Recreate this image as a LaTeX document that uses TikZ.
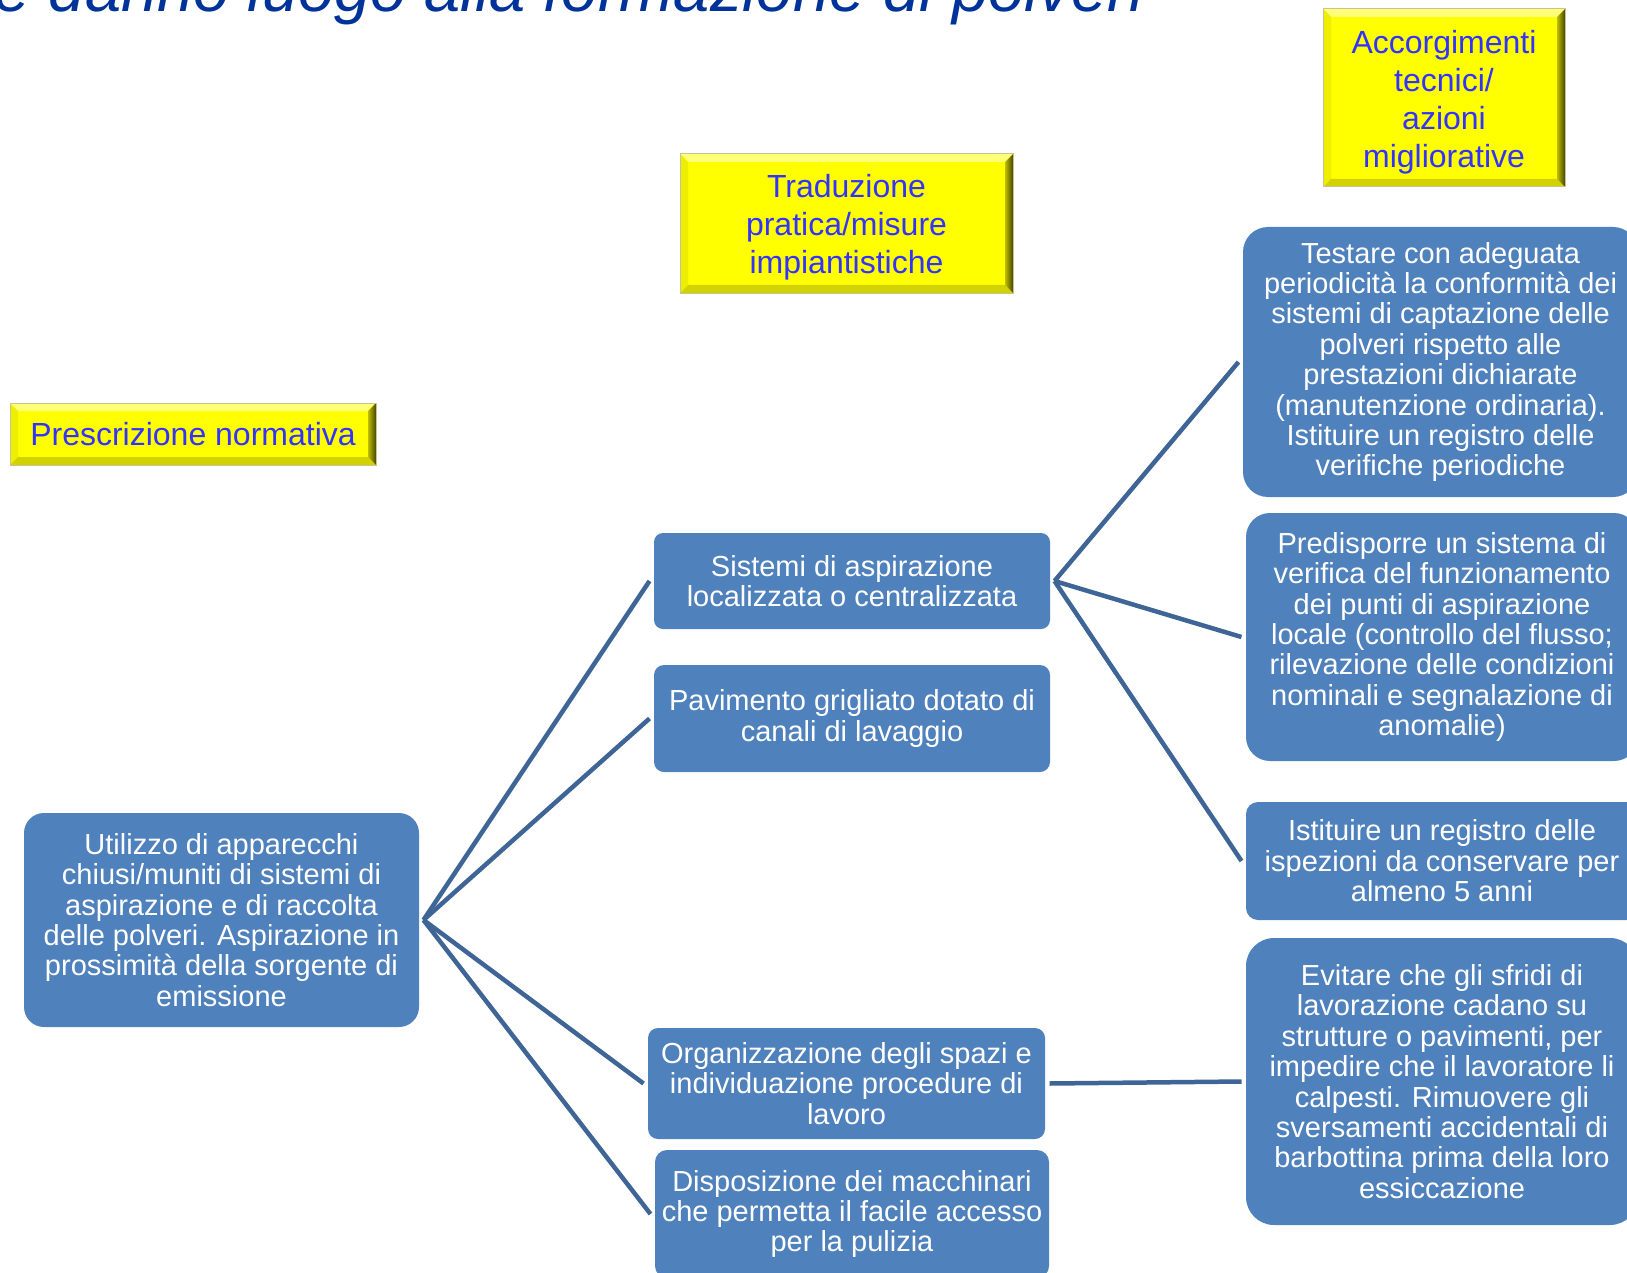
\documentclass[tikz,border=0pt]{standalone}
\usepackage{fontspec}
\setmainfont{Liberation Sans}
\definecolor{boxblue}{RGB}{79,129,189}
\definecolor{linkblue}{RGB}{62,101,150}
\definecolor{ytext}{RGB}{51,51,255}
\definecolor{titleblue}{RGB}{0,51,153}
\definecolor{ybase}{RGB}{255,255,0}
\definecolor{ytop}{RGB}{255,255,120}
\definecolor{yleft}{RGB}{238,238,0}
\definecolor{ybottom}{RGB}{210,210,0}
\definecolor{yright1}{RGB}{190,190,0}
\definecolor{yright2}{RGB}{70,70,0}
\definecolor{yedge}{RGB}{200,195,150}
\newcommand{\ystrutx}{\rule{0pt}{31pt}}
\tikzset{
  bluebox/.style={fill=boxblue, text=white, align=center, inner sep=0pt,
    outer sep=4.5pt, font=\fontsize{29}{30.4}\selectfont},
  ybox/.style={fill=ybase, draw=yedge, line width=1pt, text=ytext, align=center,
    inner sep=0pt, font=\fontsize{32}{38}\selectfont,
    path picture={
      \fill[ytop] (path picture bounding box.north west) -- (path picture bounding box.north east)
        -- ([shift={(-8pt,-8pt)}]path picture bounding box.north east)
        -- ([shift={(8pt,-8pt)}]path picture bounding box.north west) -- cycle;
      \fill[yleft] (path picture bounding box.north west)
        -- ([shift={(8pt,-8pt)}]path picture bounding box.north west)
        -- ([shift={(8pt,8pt)}]path picture bounding box.south west)
        -- (path picture bounding box.south west) -- cycle;
      \fill[ybottom] (path picture bounding box.south west)
        -- ([shift={(8pt,8pt)}]path picture bounding box.south west)
        -- ([shift={(-8pt,8pt)}]path picture bounding box.south east)
        -- (path picture bounding box.south east) -- cycle;
      \shade[left color=yright1, right color=yright2] (path picture bounding box.south east)
        -- ([shift={(-8pt,8pt)}]path picture bounding box.south east)
        -- ([shift={(-8pt,-8pt)}]path picture bounding box.north east)
        -- (path picture bounding box.north east) -- cycle;
    }},
  link/.style={draw=linkblue, line width=4.5pt}
}
\begin{document}
\begin{tikzpicture}[x=1pt,y=-1pt]
\useasboundingbox (0,0) rectangle (1627,1273);

% title fragment
\node[anchor=base east, inner sep=0pt, text=titleblue,
      font=\fontsize{65}{78}\selectfont\itshape] (title) at (1144,12)
      {e danno luogo alla formazione di polveri};

% yellow headers
\node[ybox, minimum width=366pt, minimum height=62pt] (hpresc) at (193,434)
  {Prescrizione normativa};
\node[ybox, minimum width=333pt, minimum height=139pt] (htrad) at (846.5,223.5)
  {\ystrutx Traduzione\\pratica/misure\\impiantistiche};
\node[ybox, minimum width=242pt, minimum height=178pt] (hacc) at (1444,98)
  {\ystrutx Accorgimenti\\tecnici/\\azioni\\migliorative};

% left
\node[bluebox, rounded corners=20pt, minimum width=395pt, minimum height=214pt] (A) at (221.5,920)
  {Utilizzo di apparecchi\\chiusi/muniti di sistemi di\\aspirazione e di raccolta\\delle polveri. Aspirazione in\\prossimità della sorgente di\\emissione};

% middle
\node[bluebox, rounded corners=9pt, minimum width=396pt, minimum height=96pt] (B) at (852,581)
  {Sistemi di aspirazione\\localizzata o centralizzata};
\node[bluebox, rounded corners=10pt, minimum width=396pt, minimum height=107pt] (C) at (852,718.5)
  {Pavimento grigliato dotato di\\canali di lavaggio};
\node[bluebox, rounded corners=10pt, minimum width=397pt, minimum height=111pt] (D) at (846.5,1083.5)
  {Organizzazione degli spazi e\\individuazione procedure di\\lavoro};
\node[bluebox, rounded corners=12pt, minimum width=394pt, minimum height=128pt] (E) at (852,1214)
  {Disposizione dei macchinari\\che permetta il facile accesso\\per la pulizia};

% right
\node[bluebox, rounded corners=25pt, minimum width=395pt, minimum height=270pt] (F) at (1440.5,362)
  {Testare con adeguata\\periodicità la conformità dei\\sistemi di captazione delle\\polveri rispetto alle\\prestazioni dichiarate\\(manutenzione ordinaria).\\Istituire un registro delle\\verifiche periodiche};
\node[bluebox, rounded corners=24pt, minimum width=392pt, minimum height=248pt] (G) at (1442,637)
  {Predisporre un sistema di\\verifica del funzionamento\\dei punti di aspirazione\\locale (controllo del flusso;\\rilevazione delle condizioni\\nominali e segnalazione di\\anomalie)};
\node[bluebox, rounded corners=12pt, minimum width=392pt, minimum height=118pt] (H) at (1442,861)
  {Istituire un registro delle\\ispezioni da conservare per\\almeno 5 anni};
\node[bluebox, rounded corners=28pt, minimum width=392pt, minimum height=287pt] (I) at (1442,1081.5)
  {Evitare che gli sfridi di\\lavorazione cadano su\\strutture o pavimenti, per\\impedire che il lavoratore li\\calpesti. Rimuovere gli\\sversamenti accidentali di\\barbottina prima della loro\\essiccazione};

% connectors
\draw[link] (A.east) -- (B.west);
\draw[link] (A.east) -- (C.west);
\draw[link] (A.east) -- (D.west);
\draw[link] (A.east) -- (E.west);
\draw[link] (B.east) -- (F.west);
\draw[link] (B.east) -- (G.west);
\draw[link] (B.east) -- (H.west);
\draw[link] (D.east) -- (I.west);
\end{tikzpicture}
\end{document}
